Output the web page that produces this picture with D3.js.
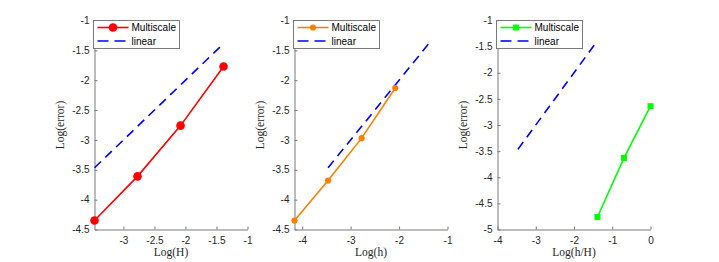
<!DOCTYPE html>
<html>
<head>
<meta charset="utf-8">
<script src="https://cdn.jsdelivr.net/npm/d3@7"></script>
<style>
  html, body { margin: 0; padding: 0; background: #fff; }
  svg { display: block; }
</style>
</head>
<body>
<script>
// ---- data ----
const xH = [-3.466, -2.773, -2.079, -1.386];
const errH = [-4.35, -3.61, -2.76, -1.77];

const xh = [-4.159, -3.466, -2.773, -2.079];
const errh = [-4.35, -3.68, -2.97, -2.13];

const xhH = [-1.386, -0.693, 0];
const errhH = [-4.76, -3.63, -2.64];

const linX = [-3.466, -1.386];
const linY = [-3.466, -1.386];

const ticksY12 = [-4.5, -4, -3.5, -3, -2.5, -2, -1.5, -1];
const ticksY3 = [-5, -4.5, -4, -3.5, -3, -2.5, -2, -1.5, -1];
const ticksX1 = [-3, -2.5, -2, -1.5, -1];
const ticksX2 = [-4, -3, -2, -1];
const ticksX3 = [-4, -3, -2, -1, 0];

const legendLabels = ["Multiscale", "linear"];

// ---- panels ----
const panels = [
  { left: 94.5, xdom: [-3.466, -1], ydom: [-4.5, -1], xt: ticksX1, yt: ticksY12,
    xs: xH, ys: errH, color: "#ff0000", marker: "circle", msize: 4.3, xlabel: "Log(H)" },
  { left: 294.5, xdom: [-4.159, -1], ydom: [-4.5, -1], xt: ticksX2, yt: ticksY12,
    xs: xh, ys: errh, color: "#ff8000", marker: "circle", msize: 3.1, xlabel: "Log(h)" },
  { left: 497.5, xdom: [-4, 0], ydom: [-5, -1], xt: ticksX3, yt: ticksY3,
    xs: xhH, ys: errhH, color: "#00ff00", marker: "square", msize: 3, xlabel: "Log(h/H)" }
];

const W = 719, H = 262;
const plotTop = 20.5, plotBottom = 229.5, axW = 153;
const axisColor = "#262626";
const fmt = v => String(v).replace("\u2212", "-");

const svg = d3.select("body").append("svg").attr("width", W).attr("height", H);

function drawMarker(g, type, x, y, s, color) {
  if (type === "circle") {
    g.append("circle").attr("cx", x).attr("cy", y).attr("r", s).attr("fill", color);
  } else {
    g.append("rect").attr("x", x - s).attr("y", y - s).attr("width", 2 * s).attr("height", 2 * s).attr("fill", color);
  }
}

panels.forEach(p => {
  const x = d3.scaleLinear().domain(p.xdom).range([p.left, p.left + axW]);
  const y = d3.scaleLinear().domain(p.ydom).range([plotBottom, plotTop]);
  const g = svg.append("g");

  // axes
  const ax = g.append("g").attr("transform", `translate(0,${plotBottom})`)
    .call(d3.axisBottom(x).tickValues(p.xt).tickFormat(fmt).tickSizeInner(-3).tickSizeOuter(0).tickPadding(7));
  const ay = g.append("g").attr("transform", `translate(${p.left},0)`)
    .call(d3.axisLeft(y).tickValues(p.yt).tickFormat(fmt).tickSizeInner(-3).tickSizeOuter(0).tickPadding(5));
  [ax, ay].forEach(a => {
    a.selectAll("path").attr("stroke", "#7a7a7a").attr("stroke-width", 1);
    a.selectAll("line").attr("stroke", "#7a7a7a").attr("stroke-width", 1);
    a.selectAll("text").attr("fill", axisColor).style("font-family", "'Liberation Sans', Arial, sans-serif").style("font-size", "10px");
  });

  // linear reference (dashed)
  const lineGen = d3.line().x(d => x(d[0])).y(d => y(d[1]));
  g.append("path").datum(linX.map((v, i) => [v, linY[i]]))
    .attr("d", lineGen).attr("fill", "none").attr("stroke", "#0000ff")
    .attr("stroke-width", 1.6).attr("stroke-dasharray", "9,6");

  // data line
  const pts = p.xs.map((v, i) => [v, p.ys[i]]);
  g.append("path").datum(pts).attr("d", lineGen).attr("fill", "none")
    .attr("stroke", p.color).attr("stroke-width", 1.6);
  pts.forEach(d => drawMarker(g, p.marker, x(d[0]), y(d[1]), p.msize, p.color));

  // labels
  g.append("text").attr("x", p.left + axW / 2).attr("y", 256).attr("text-anchor", "middle")
    .style("font-family", "'Liberation Serif', 'Times New Roman', serif").style("font-size", "11.5px")
    .attr("fill", axisColor).text(p.xlabel);
  const ylx = p.left - 31;
  g.append("text").attr("transform", `translate(${ylx},${(plotTop + plotBottom) / 2}) rotate(-90)`)
    .attr("text-anchor", "middle")
    .style("font-family", "'Liberation Serif', 'Times New Roman', serif").style("font-size", "11.5px")
    .attr("fill", axisColor).text("Log(error)");

  // legend
  const lg = g.append("g");
  const lx = p.left - 1, ly = plotTop;
  lg.append("rect").attr("x", lx).attr("y", ly).attr("width", 86).attr("height", 28)
    .attr("fill", "#fff").attr("stroke", "#7a7a7a").attr("stroke-width", 1);
  const r1 = ly + 7, r2 = ly + 20.5;
  lg.append("line").attr("x1", lx + 4).attr("x2", lx + 35).attr("y1", r1).attr("y2", r1)
    .attr("stroke", p.color).attr("stroke-width", 1.6);
  drawMarker(lg, p.marker, lx + 19.5, r1, p.msize, p.color);
  lg.append("line").attr("x1", lx + 4).attr("x2", lx + 35).attr("y1", r2).attr("y2", r2)
    .attr("stroke", "#0000ff").attr("stroke-width", 1.6).attr("stroke-dasharray", "11,6");
  [r1, r2].forEach((ry, i) => {
    lg.append("text").attr("x", lx + 38).attr("y", ry + 3.6)
      .style("font-family", "'Liberation Sans', Arial, sans-serif").style("font-size", "10px")
      .attr("fill", "#000").text(legendLabels[i]);
  });
});
</script>
</body>
</html>
